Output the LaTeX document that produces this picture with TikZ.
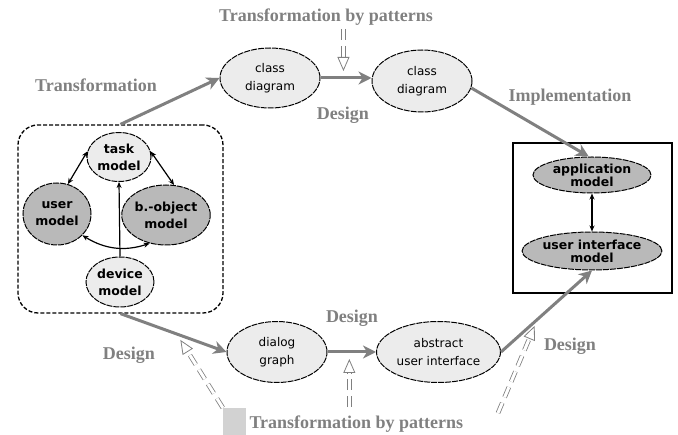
\documentclass[tikz,border=0pt]{standalone}
\usepackage{fontspec}
\setmainfont{Liberation Serif}
\setsansfont{DejaVu Sans}
\usetikzlibrary{arrows.meta,shapes.geometric}

\tikzset{
  model/.style={ellipse, draw, line width=1pt, dash pattern=on 6pt off 1pt, fill=gray!15,
    inner sep=0pt, align=center, font=\sffamily\fontsize{12}{18}\selectfont},
  bmodel/.style={model, font=\sffamily\bfseries\fontsize{12.5}{17}\selectfont},
  dmodel/.style={bmodel, fill=gray!55},
  phase/.style={text=gray, font=\bfseries\fontsize{18}{20}\selectfont},
  flow/.style={draw=gray, line width=3pt, -{Stealth[length=13pt,width=13pt,inset=4pt]}},
  link/.style={line width=1.2pt, {Stealth[length=6pt,width=5pt]}-{Stealth[length=6pt,width=5pt]}},
  pat/.style={draw=gray, line width=0.8pt, double=white, double distance=3pt,
    dash pattern=on 11pt off 6pt, -{Triangle[open,length=14pt,width=12pt]}, shorten >=7pt}
}

\begin{document}
\begin{tikzpicture}[x=1pt,y=-1pt]
  \useasboundingbox (0,0) rectangle (678,435);

  % task environment
  \node[draw, dash pattern=on 4pt off 2pt, line width=1.3pt, rounded corners=20pt, minimum width=205pt,
    minimum height=188pt] (env) at (120.5,219) {};
  \node[bmodel, minimum width=64pt, minimum height=49pt] (task) at (119,157) {task\\model};
  \node[dmodel, minimum width=68pt, minimum height=62pt] (user) at (57,214) {user\\model};
  \node[dmodel, minimum width=77pt, minimum height=60pt] (bobj) at (166,215) {b.-object\\model};
  \node[bmodel, minimum width=68pt, minimum height=50pt] (device) at (120,282) {device\\model};
  \draw[link] (task.170) -- (user.70);
  \draw[link] (task.10) -- (bobj.75);
  \draw[link] (user.-40) to[bend right=25] (bobj.-120);
  \draw[line width=1.2pt, -{Stealth[length=6pt,width=5pt]}] (device.north) -- (task.south);

  % implementation
  \node[draw, line width=1.3pt, minimum width=159pt, minimum height=150pt] (impl) at (592.5,218) {};
  \node[dmodel, minimum width=118pt, minimum height=36pt] (app) at (592,175) {application\\[-4pt]model};
  \node[dmodel, minimum width=120pt, minimum height=38pt] (ui) at (592,251) {user interface\\[-4pt]model};
  \draw[link] (app.south) -- (ui.north);

  \node[model, minimum width=100pt, minimum height=60pt] (class1) at (270,78) {class\\diagram};
  \node[model, minimum width=100pt, minimum height=62pt] (class2) at (422,81) {class\\diagram};
  \node[model, minimum width=100pt, minimum height=61pt] (dialog) at (277,352) {dialog\\graph};
  \node[model, minimum width=124pt, minimum height=61pt] (abstract) at (438.5,352) {abstract\\user interface};

  \draw[flow] (env.north) -- (class1.west);
  \draw[flow] (class1.east |- 0,78) -- coordinate[pos=.45] (m1) (class2.west |- 0,78);
  \draw[flow] (class2.-8) -- (app.100);
  \draw[flow] (env.south) -- coordinate[pos=.53] (m3) (dialog.west);
  \draw[flow] (dialog) -- coordinate[pos=.45] (m2) (abstract);
  \draw[flow] (abstract.east) -- coordinate[pos=.4] (m4) (ui.south);

  % labels
  \node[phase] (tr1) at (96,85) {Transformation};
  \node[phase] (tp1) at (326,17) {Transformation by patterns};
  \node[phase] (imp) at (570,97) {Implementation};
  \foreach \x/\y/\n in {343/115/d1, 352/318/d2, 129/355/d3, 570/346/d4}
    \node[phase] (\n) at (\x,\y) {Design};
  \node[fill=gray!35, minimum width=23pt, minimum height=27pt, inner sep=0pt] (sq) at (234.5,421.5) {};
  \node[phase, anchor=west] (tp2) at (246,424) {Transformation by patterns};
  \coordinate (tail) at (498,413);

  % patterns
  \draw[pat] (tp1.south -| m1) -- (m1);
  \draw[pat, shorten <=5pt] (tp2.north -| m2) -- (m2);
  \draw[pat] (sq.north west) -- (m3);
  \draw[pat] (tail) -- (m4);
\end{tikzpicture}
\end{document}
